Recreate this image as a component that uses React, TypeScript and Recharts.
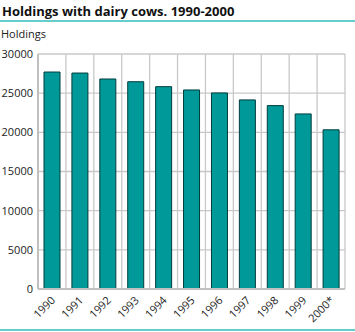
import { BarChart, Bar, XAxis, YAxis, CartesianGrid } from "recharts";

const years = ["1990", "1991", "1992", "1993", "1994", "1995", "1996", "1997", "1998", "1999", "2000*"];
const holdings = [27700, 27570, 26810, 26460, 25830, 25410, 25030, 24140, 23410, 22350, 20320];
const yTicks = [0, 5000, 10000, 15000, 20000, 25000, 30000];
const bandEdges = [0, 1, 2, 3, 4, 5, 6, 7, 8, 9, 10, 11];

const data = years.map((year, i) => ({ year, value: holdings[i], pos: i + 0.5 }));

const font = "'Open Sans', 'DejaVu Sans', sans-serif";

function YearTick({ x, y, payload }: any) {
  return (
    <text
      x={x + 4}
      y={y + 4}
      transform={`rotate(-45, ${x + 4}, ${y + 4})`}
      textAnchor="end"
      fontSize={11}
      fontFamily={font}
      fill="#222"
    >
      {payload.value}
    </text>
  );
}

export default function App() {
  return (
    <div style={{ position: "absolute", left: 0, top: 0, width: 355, height: 332, background: "#fff", fontFamily: font }}>
      <div style={{ position: "absolute", left: 2, top: 2, fontSize: 13, fontWeight: 700, color: "#111", whiteSpace: "nowrap" }}>
        Holdings with dairy cows. 1990-2000
      </div>
      <div style={{ position: "absolute", left: 0, top: 20, width: 355, height: 2, background: "#66cccc" }} />
      <div style={{ position: "absolute", left: 1, top: 26, fontSize: 11, color: "#222" }}>Holdings</div>
      <div style={{ position: "absolute", left: 0, top: 329, width: 355, height: 2, background: "#66cccc" }} />
      <div style={{ position: "absolute", left: 0, top: 0 }}>
        <BarChart width={355} height={332} data={data} margin={{ top: 54, right: 10, left: 2, bottom: 3 }} barSize={16}>
          <XAxis xAxisId="edges" type="number" dataKey="pos" domain={[0, 11]} ticks={bandEdges} hide />
          <CartesianGrid xAxisId="edges" stroke="#c8c8c8" strokeWidth={1.3} />
          <XAxis
            dataKey="year"
            interval={0}
            height={40}
            tickLine={false}
            axisLine={{ stroke: "#c0c0c0", strokeWidth: 2 }}
            tick={<YearTick />}
          />
          <YAxis
            domain={[0, 30000]}
            ticks={yTicks}
            width={36}
            tickLine={false}
            tickSize={0}
            tickMargin={5}
            axisLine={{ stroke: "#c0c0c0", strokeWidth: 2 }}
            tick={{ fontSize: 11, fill: "#222", fontFamily: font }}
          />
          <Bar dataKey="value" fill="#009999" stroke="#003c3c" strokeWidth={1} isAnimationActive={false} />
        </BarChart>
      </div>
    </div>
  );
}
